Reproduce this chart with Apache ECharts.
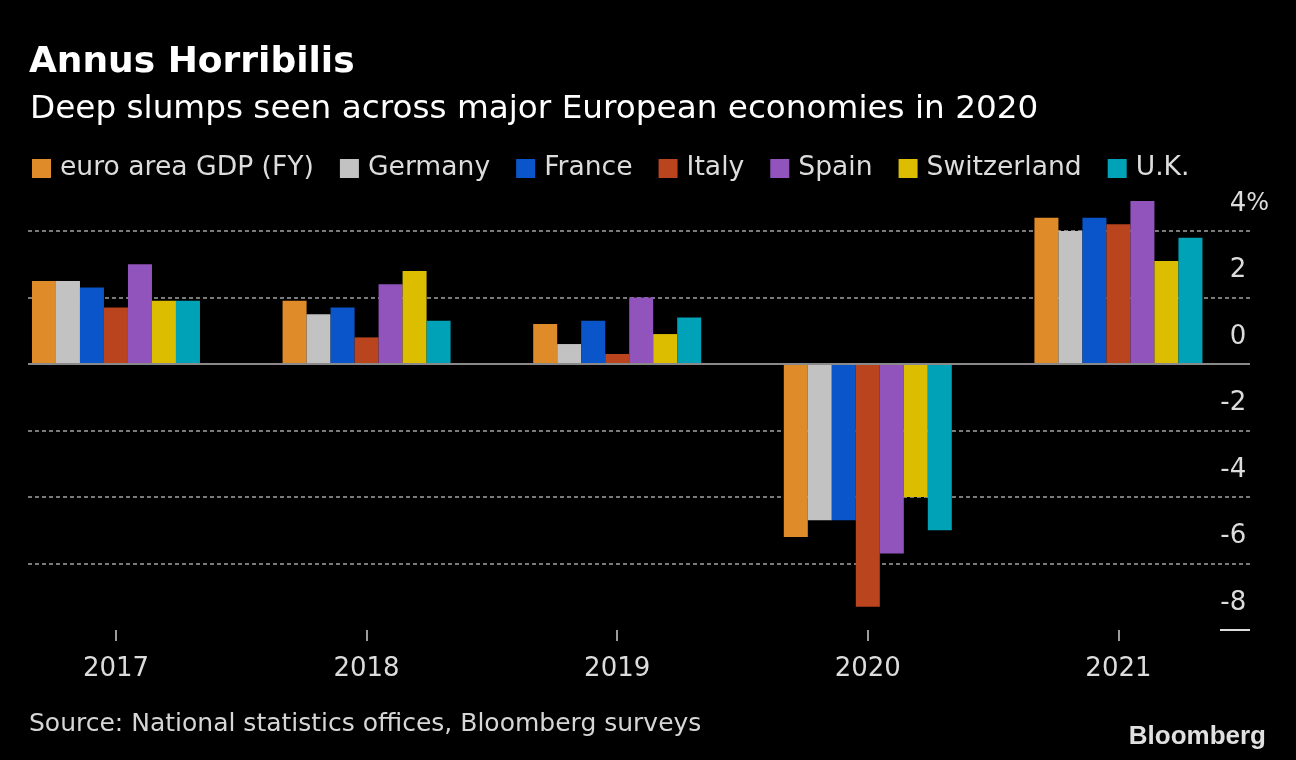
<!DOCTYPE html>
<html>
<head>
<meta charset="utf-8">
<script src="https://cdn.jsdelivr.net/npm/echarts@6/dist/echarts.min.js"></script>
<style>
html,body{margin:0;padding:0;background:#000;}
#chart{width:1296px;height:760px;}
</style>
</head>
<body>
<div id="chart"></div>
<script>
const years = [2017, 2018, 2019, 2020, 2021];
const seriesNames = ['euro area GDP (FY)', 'Germany', 'France', 'Italy', 'Spain', 'Switzerland', 'U.K.'];
const euroArea   = [2.5, 1.9, 1.2, -5.2, 4.4];
const germany    = [2.5, 1.5, 0.6, -4.7, 4.0];
const france     = [2.3, 1.7, 1.3, -4.7, 4.4];
const italy      = [1.7, 0.8, 0.3, -7.3, 4.2];
const spain      = [3.0, 2.4, 2.0, -5.7, 4.9];
const switzerland= [1.9, 2.8, 0.9, -4.0, 3.1];
const uk         = [1.9, 1.3, 1.4, -5.0, 3.8];
const yTicks = [-8, -6, -4, -2, 0, 2, 4];
const colors = ['#E08B2A', '#C2C2C2', '#0A55C9', '#BA441E', '#9154BC', '#DDBD00', '#00A2B8'];

const FONT = 'DejaVu Sans';
const allValues = [euroArea, germany, france, italy, spain, switzerland, uk];

const series = allValues.map((vals, k) => ({
  name: seriesNames[k],
  type: 'bar',
  yAxisIndex: 0,
  barWidth: 24,
  barGap: '0%',
  clip: false,
  itemStyle: { color: colors[k] },
  data: years.map((y, i) => [y, vals[i]]),
  markLine: k === 0 ? {
    silent: true, symbol: 'none', label: { show: false },
    lineStyle: { color: '#8a8a8a', width: 2, type: 'solid' },
    data: [{ yAxis: 0 }]
  } : undefined
}));

const chart = echarts.init(document.getElementById('chart'), null, { renderer: 'canvas' });
chart.setOption({
  backgroundColor: '#000',
  animation: false,
  textStyle: { fontFamily: FONT },
  title: [
    { text: 'Annus Horribilis', left: 24, top: 40,
      textStyle: { color: '#fff', fontSize: 36, fontWeight: 'bold', fontFamily: FONT } },
    { text: 'Deep slumps seen across major European economies in 2020', left: 25, top: 88,
      textStyle: { color: '#fff', fontSize: 32.7, fontWeight: 'normal', fontFamily: FONT } },
    { text: 'Source: National statistics offices, Bloomberg surveys', left: 24, top: 707,
      textStyle: { color: '#d6d6d6', fontSize: 25, fontWeight: 'normal', fontFamily: FONT } },
    { text: 'Bloomberg', right: 25, top: 719,
      textStyle: { color: '#e0e0e0', fontSize: 26, fontWeight: 'bold', fontFamily: 'Liberation Sans' } }
  ],
  legend: {
    left: 32, top: 155, padding: 0,
    icon: 'rect', itemWidth: 19, itemHeight: 19, itemGap: 26,
    textStyle: { color: '#dcdcdc', fontSize: 26.6, fontFamily: FONT, padding: [0, 0, 0, 4] },
    data: seriesNames
  },
  grid: { left: 28, right: 46, top: 231, bottom: 130 },
  xAxis: {
    type: 'value',
    min: 2016.649, max: 2021.525,
    axisLine: { show: false, onZero: false },
    splitLine: { show: false },
    axisTick: { show: true, customValues: years, length: 11, lineStyle: { color: '#cfcfcf', width: 1.5 } },
    axisLabel: { customValues: years, formatter: v => String(v), color: '#dcdcdc', fontSize: 26, margin: 26, fontFamily: FONT }
  },
  yAxis: [{
    type: 'value', position: 'right',
    min: -8, max: 4, interval: 2,
    axisLine: { show: false },
    axisTick: { show: false },
    splitLine: { show: true, showMinLine: false, lineStyle: { color: '#7a7a7a', width: 2, type: [4, 3] } },
    axisLabel: {
      align: 'right', margin: 19, verticalAlign: 'bottom', padding: [0, 0, 14, 0],
      formatter: v => v === 4 ? '{n|4}{p|%}' : '{n|' + v + '}{q|%}',
      rich: {
        n: { color: '#dcdcdc', fontSize: 26, fontFamily: FONT },
        p: { color: '#dcdcdc', fontSize: 24, fontFamily: FONT },
        q: { color: 'transparent', fontSize: 24, fontFamily: FONT }
      }
    }
  }, {
    type: 'value', position: 'right',
    min: -8, max: 4, interval: 2,
    axisLine: { show: false },
    splitLine: { show: false },
    axisLabel: { show: false },
    axisTick: { show: true, inside: true, customValues: [-8], length: 30, lineStyle: { color: '#dcdcdc', width: 2 } }
  }],
  series: series
});
</script>
</body>
</html>
